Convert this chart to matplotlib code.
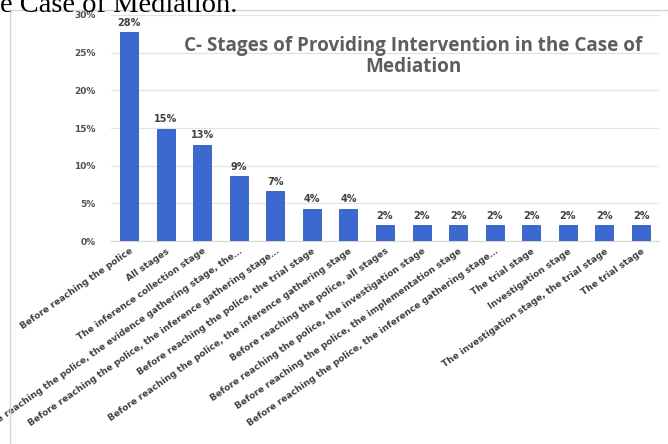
import matplotlib
matplotlib.use("Agg")
import matplotlib.pyplot as plt
from matplotlib.patches import Rectangle
from matplotlib.ticker import FuncFormatter

# Share of cases (%) for each intervention stage
stages = [
    "Before reaching the police",
    "All stages",
    "The inference collection stage",
    "Before reaching the police, the evidence gathering stage, the\u2026",
    "Before reaching the police, the inference gathering stage\u2026",
    "Before reaching the police, the trial stage",
    "Before reaching the police, the inference gathering stage",
    "Before reaching the police, all stages",
    "Before reaching the police, the investigation stage",
    "Before reaching the police, the implementation stage",
    "Before reaching the police, the inference gathering stage\u2026",
    "The trial stage",
    "Investigation stage",
    "The investigation stage, the trial stage",
    "The trial stage",
]
shares = [27.7, 14.9, 12.8, 8.6, 6.6, 4.3, 4.3, 2.1, 2.1, 2.1, 2.1, 2.1, 2.1, 2.1, 2.1]
y_ticks = [0, 5, 10, 15, 20, 25, 30]
title_lines = ["C- Stages of Providing Intervention in the Case of", "Mediation"]
page_text = "e Case of Mediation."

W, H = 668, 444
fig = plt.figure(figsize=(W / 100, H / 100), dpi=100)
fig.patch.set_facecolor("white")

# chart frame (runs off the bottom/right of the canvas)
fig.patches.append(Rectangle((10 / W, -0.2), 1.2, 1 - 10 / H + 0.2,
                             transform=fig.transFigure, fill=False,
                             edgecolor="#d6d6d6", linewidth=1.0))

# running document text above the chart
fig.text(0 / W, 1 - 12 / H, page_text, family="Liberation Serif",
         fontsize=20.5, va="baseline", ha="left", color="black")

left, right = 110.7, 659.3
top, bottom = 15, 241
ax = fig.add_axes([left / W, 1 - bottom / H, (right - left) / W, (bottom - top) / H])
ax.set_facecolor("none")

x = list(range(len(stages)))
ax.bar(x, shares, width=0.49, color="#3c69cf", edgecolor="#3059b8",
       linewidth=0.6, zorder=3)

for xi, v in zip(x, shares):
    ax.text(xi, v + 0.6, f"{v:.0f}%", ha="center", va="bottom",
            fontsize=7, fontweight="bold", color="#404040", family="DejaVu Sans")

ax.set_xlim(-0.5, len(stages) - 0.5)
ax.set_ylim(0, 30)
ax.set_yticks(y_ticks)
ax.yaxis.set_major_formatter(FuncFormatter(lambda v, p: f"{v:.0f}%"))
ax.grid(axis="y", color="#e3e3e3", linewidth=0.9, zorder=0)
for s in ["top", "right", "left"]:
    ax.spines[s].set_visible(False)
ax.spines["bottom"].set_color("#d9d9d9")
ax.tick_params(axis="y", length=0, pad=11, labelsize=6.5, labelcolor="#505050")
ax.tick_params(axis="x", length=0, pad=4)
for lbl in ax.get_yticklabels():
    lbl.set_fontweight("bold")

ax.set_xticks(x)
ax.set_xticklabels(stages, rotation=35, ha="right", rotation_mode="anchor",
                   fontsize=6.5, fontweight="bold", color="#404040")

# two-line chart title, set tight like the original chart
for line, yc in zip(title_lines, [45.5, 67]):
    fig.text(413 / W, 1 - yc / H, line, ha="center", va="center", family="Open Sans",
             fontsize=13.6, fontweight="bold", color="#5e5e5e")

fig.savefig("out.png", dpi=100, facecolor="white")
